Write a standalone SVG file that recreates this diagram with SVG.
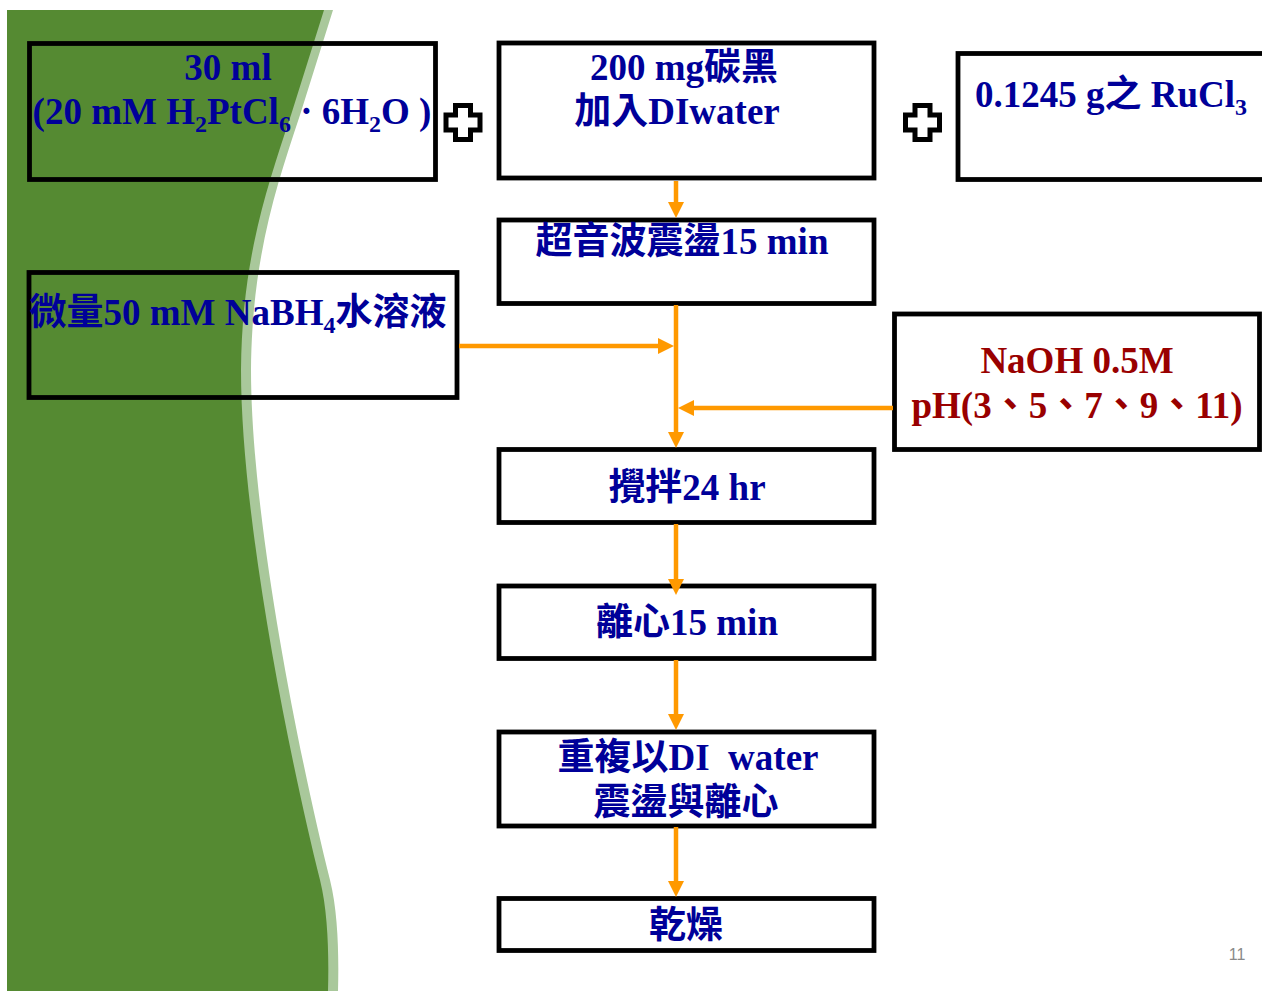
<svg xmlns="http://www.w3.org/2000/svg" width="1262" height="991" viewBox="0 0 1262 991">
<defs>
<style>
.box{fill:none;stroke:#000;stroke-width:4.8}
.t{font-family:"Liberation Serif","Noto Sans CJK TC",serif;font-weight:bold;font-size:37px;fill:#000099}
.r{fill:#990000}
.c{stroke:#ff9900;stroke-width:4.5;fill:none;marker-end:url(#ah)}
.plus{fill:#fff;stroke:#000;stroke-width:5;stroke-linejoin:miter}
</style>
<marker id="ah" viewBox="0 0 16 16" refX="6" refY="8" markerWidth="16" markerHeight="16" markerUnits="userSpaceOnUse" orient="auto">
<path d="M0,0 L16,8 L0,16 Z" fill="#ff9900"/>
</marker>
<polygon id="plusShape" points="-7.5,-17 7.5,-17 7.5,-7.5 17,-7.5 17,7.5 7.5,7.5 7.5,17 -7.5,17 -7.5,7.5 -17,7.5 -17,-7.5 -7.5,-7.5"/>
</defs>
<rect width="1262" height="991" fill="#fff"/>
<g id="background">
<path d="M7,10 L333,10 L300,115 C275,190 252,260 251,370 C251,520 300,760 330,880 C338,912 339,955 338,991 L7,991 Z" fill="#a9c89b"/>
<path d="M7,10 L324,10 L291,115 C266,190 242,260 241,370 C241,520 290,760 320,880 C328,912 329,955 328,991 L7,991 Z" fill="#558a32"/>
</g>
<g id="n-pt">
<rect class="box" x="29.5" y="43.5" width="406" height="136"/>
<text class="t" x="228" y="80" text-anchor="middle">30 ml</text>
<text class="t" x="232" y="124" text-anchor="middle">(20 mM H<tspan font-size="24" dy="8">2</tspan><tspan dy="-8">PtCl</tspan><tspan font-size="24" dy="8">6</tspan><tspan dy="-8"> · 6H</tspan><tspan font-size="24" dy="8">2</tspan><tspan dy="-8">O )</tspan></text>
</g>
<g id="plus1"><use href="#plusShape" class="plus" x="463" y="122.5"/></g>
<g id="n-carbon">
<rect class="box" x="499" y="43" width="375" height="135"/>
<text class="t" x="684" y="80" text-anchor="middle">200 mg碳黑</text>
<text class="t" x="677" y="124" text-anchor="middle">加入DIwater</text>
</g>
<g id="plus2"><use href="#plusShape" class="plus" x="922.5" y="122.5"/></g>
<g id="n-ru">
<rect class="box" x="958" y="53.5" width="320" height="126"/>
<text class="t" x="975" y="107">0.1245 g之 RuCl<tspan font-size="24" dy="8">3</tspan></text>
</g>
<g id="n-sonic">
<rect class="box" x="499" y="220" width="375" height="83.5"/>
<text class="t" x="682" y="254" text-anchor="middle">超音波震盪15 min</text>
</g>
<g id="n-nabh4">
<rect class="box" x="29" y="272.5" width="428" height="125"/>
<text class="t" x="238" y="325" text-anchor="middle">微量50 mM NaBH<tspan font-size="24" dy="8">4</tspan><tspan dy="-8">水溶液</tspan></text>
</g>
<g id="n-naoh">
<rect class="box" x="894.5" y="314" width="365" height="135.5"/>
<text class="t r" x="1077" y="373" text-anchor="middle">NaOH 0.5M</text>
<text class="t r" x="1077" y="418" text-anchor="middle">pH(3、5、7、9、11)</text>
</g>
<g id="n-stir">
<rect class="box" x="499" y="449.5" width="375" height="73"/>
<text class="t" x="687" y="500" text-anchor="middle">攪拌24 hr</text>
</g>
<g id="n-centri">
<rect class="box" x="499" y="586" width="375" height="72.5"/>
<text class="t" x="687" y="635" text-anchor="middle">離心15 min</text>
</g>
<g id="n-repeat">
<rect class="box" x="499" y="732" width="375" height="94"/>
<text class="t" x="688" y="770" text-anchor="middle" xml:space="preserve">重複以DI  water</text>
<text class="t" x="686" y="815" text-anchor="middle">震盪與離心</text>
</g>
<g id="n-dry">
<rect class="box" x="499" y="898.5" width="375" height="52"/>
<text class="t" x="686" y="938" text-anchor="middle">乾燥</text>
</g>
<g id="connectors">
<line class="c" x1="676" y1="181" x2="676" y2="208"/>
<line class="c" x1="676" y1="305" x2="676" y2="438"/>
<line class="c" x1="459" y1="346" x2="664" y2="346"/>
<line class="c" x1="893" y1="408" x2="688" y2="408"/>
<line class="c" x1="676" y1="524" x2="676" y2="585"/>
<line class="c" x1="676" y1="660" x2="676" y2="720"/>
<line class="c" x1="676" y1="827" x2="676" y2="887"/>
</g>
<text x="1237" y="960" text-anchor="middle" font-family="'Liberation Sans',sans-serif" font-size="16" fill="#8a8a8a">11</text>
</svg>
